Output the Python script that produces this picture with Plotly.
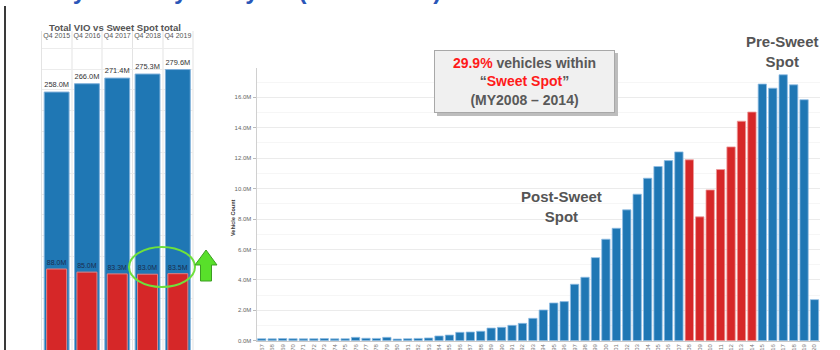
import plotly.graph_objects as go

# ---- Left panel: total VIO vs sweet-spot total, by quarter ----
quarters = ["Q4 2015", "Q4 2016", "Q4 2017", "Q4 2018", "Q4 2019"]
total_vio = [258.0, 266.0, 271.4, 275.3, 279.6]          # millions
sweet_spot_total = [88.0, 85.0, 83.3, 83.0, 83.5]        # millions

# ---- Right panel: vehicle count by model year ----
model_years = [str(y) for y in range(1967, 2021)]
vehicle_count = [
    0.13, 0.12, 0.14, 0.13, 0.12, 0.13, 0.14, 0.12, 0.13, 0.22,   # 1967-1976
    0.16, 0.15, 0.22, 0.11, 0.13, 0.15, 0.18, 0.31, 0.37, 0.55,   # 1977-1986
    0.57, 0.62, 0.83, 0.88, 1.01, 1.14, 1.47, 2.02, 2.48, 2.57,   # 1987-1996
    3.71, 4.17, 5.46, 6.67, 7.39, 8.60, 9.63, 10.68, 11.45, 11.84,  # 1997-2006
    12.41, 11.89, 8.14, 9.91, 11.25, 12.74, 14.43, 15.03, 16.87, 16.60,  # 2007-2016
    17.48, 16.82, 15.84, 2.70,                                     # 2017-2020
]
sweet_spot_years = [str(y) for y in range(2008, 2015)]
y_ticks = [0, 2, 4, 6, 8, 10, 12, 14, 16]

BLUE = "#1f77b4"
RED = "#d62728"
FONT = "Liberation Sans, Arial, sans-serif"
W, H = 840, 350


def px(x):
    return x / W


def py(y):
    return 1 - y / H


fig = go.Figure()

fig.add_trace(go.Bar(
    x=quarters, y=total_vio, xaxis="x", yaxis="y",
    width=0.82, marker=dict(color=BLUE, line=dict(color="#7fb0da", width=1)),
    text=[f"{v:.1f}M" for v in total_vio], textposition="outside",
    textfont=dict(size=7.5, color="#333333", family=FONT),
    cliponaxis=False, showlegend=False,
))
fig.add_trace(go.Bar(
    x=quarters, y=sweet_spot_total, xaxis="x", yaxis="y",
    width=0.66, marker=dict(color=RED, line=dict(color="#e88080", width=1)),
    text=[f"{v:.1f}M" for v in sweet_spot_total], textposition="outside",
    textfont=dict(size=7, color="#1b2d4f", family=FONT),
    cliponaxis=False, showlegend=False,
))

bar_colors = [RED if y in sweet_spot_years else BLUE for y in model_years]
edge_colors = ["#ee9a9a" if y in sweet_spot_years else "#8fbde3" for y in model_years]
fig.add_trace(go.Bar(
    x=model_years, y=vehicle_count, xaxis="x2", yaxis="y2",
    width=0.8, marker=dict(color=bar_colors, line=dict(color=edge_colors, width=0.8)),
    showlegend=False, hoverinfo="x+y",
))

shapes = []
# outer slide edge
shapes.append(dict(type="line", xref="paper", yref="paper",
                   x0=px(5), x1=px(5), y0=py(6), y1=py(350),
                   line=dict(color="#3a3a3a", width=2)))
# left panel column dividers
for xp in [41.5, 72, 102, 132.5, 163, 193]:
    shapes.append(dict(type="line", xref="paper", yref="paper",
                       x0=px(xp), x1=px(xp), y0=py(31), y1=py(350),
                       line=dict(color="#e3e3e3", width=1), layer="below"))
# highlight ellipse around the latest sweet-spot totals
shapes.append(dict(type="circle", xref="paper", yref="paper",
                   x0=px(129), x1=px(195), y0=py(287), y1=py(247),
                   line=dict(color="#6ee03c", width=2)))
# green up arrow
arrow = [(206, 250), (195, 265), (200.5, 265), (200.5, 281),
         (211.5, 281), (211.5, 265), (217, 265)]
path = "M " + " L ".join(f"{px(a):.5f},{py(b):.5f}" for a, b in arrow) + " Z"
shapes.append(dict(type="path", xref="paper", yref="paper", path=path,
                   fillcolor="#58e02a", line=dict(color="#3c9e22", width=1)))
# callout box shadow
shapes.append(dict(type="rect", xref="paper", yref="paper",
                   x0=px(437), x1=px(618), y0=py(116), y1=py(53),
                   fillcolor="#bdbdbd", line=dict(width=0)))

annotations = [
    dict(text="<b>Key Industry Analysis (VIO Trends)</b>", xref="paper", yref="paper",
         x=px(40), y=py(6), xanchor="left", yanchor="bottom", showarrow=False,
         font=dict(size=24, color="#2a56b8", family=FONT)),
    dict(text="<b>Total VIO vs Sweet Spot total</b>", xref="paper", yref="paper",
         x=px(115), y=py(27), xanchor="center", yanchor="middle", showarrow=False,
         font=dict(size=9.6, color="#555555", family=FONT)),
    dict(text="<b>Vehicle Count</b>", xref="paper", yref="paper",
         x=px(233), y=py(218), xanchor="center", yanchor="middle", showarrow=False,
         textangle=-90, font=dict(size=5.5, color="#333333", family=FONT)),
    dict(text=("<span style='color:#ff1a1a'>29.9%</span> vehicles within<br>"
               "“<span style='color:#ff1a1a'>Sweet Spot</span>”<br>"
               "(MY2008 – 2014)"),
         xref="paper", yref="paper", x=px(524.5), y=py(81.5),
         xanchor="center", yanchor="middle", showarrow=False,
         width=175, height=57, bgcolor="#f0f0f0", bordercolor="#a8a8a8",
         borderwidth=1, borderpad=2,
         font=dict(size=14, color="#595959", family=FONT, weight="bold")),
    dict(text="<b>Post-Sweet<br>Spot</b>", xref="paper", yref="paper",
         x=px(561), y=py(206.5), xanchor="center", yanchor="middle", showarrow=False,
         font=dict(size=15, color="#555555", family=FONT)),
    dict(text="<b>Pre-Sweet<br>Spot</b>", xref="paper", yref="paper",
         x=px(782), y=py(51.5), xanchor="center", yanchor="middle", showarrow=False,
         font=dict(size=15, color="#555555", family=FONT)),
]

fig.update_layout(
    width=W, height=H,
    margin=dict(l=0, r=0, t=0, b=0, autoexpand=False),
    paper_bgcolor="white", plot_bgcolor="white",
    barmode="overlay",
    font=dict(family=FONT),
    shapes=shapes, annotations=annotations,
    xaxis=dict(domain=[px(41.5), px(193)], anchor="y", side="top", automargin=False,
               tickfont=dict(size=7, color="#555555", family=FONT),
               showgrid=False, showline=False, ticks="", fixedrange=True),
    yaxis=dict(domain=[0, py(40)], anchor="x", range=[10.2, 308.0], automargin=False,
               showticklabels=False, ticks="", showline=False,
               showgrid=True, gridcolor="#ececec", dtick=20, zeroline=False),
    xaxis2=dict(domain=[px(256.5), px(819.7)], anchor="y2", automargin=False,
                tickangle=-90, tickfont=dict(size=6, color="#777777", family=FONT),
                showline=True, linecolor="#c8c8c8", ticks="", showgrid=False),
    yaxis2=dict(domain=[py(340.7), py(68.4)], anchor="x2", range=[0, 17.9],
                automargin=False,
                tickvals=y_ticks, ticktext=[f"{v:.1f}M" for v in y_ticks],
                tickfont=dict(size=6, color="#666666", family=FONT),
                ticks="outside", ticklen=3, tickcolor="#bbbbbb",
                showline=True, linecolor="#d0d0d0",
                showgrid=True, gridcolor="#ebebeb", zeroline=False,
                minor=dict(dtick=1, showgrid=True, gridcolor="#f6f6f6")),
)

fig.write_html("out.html")
